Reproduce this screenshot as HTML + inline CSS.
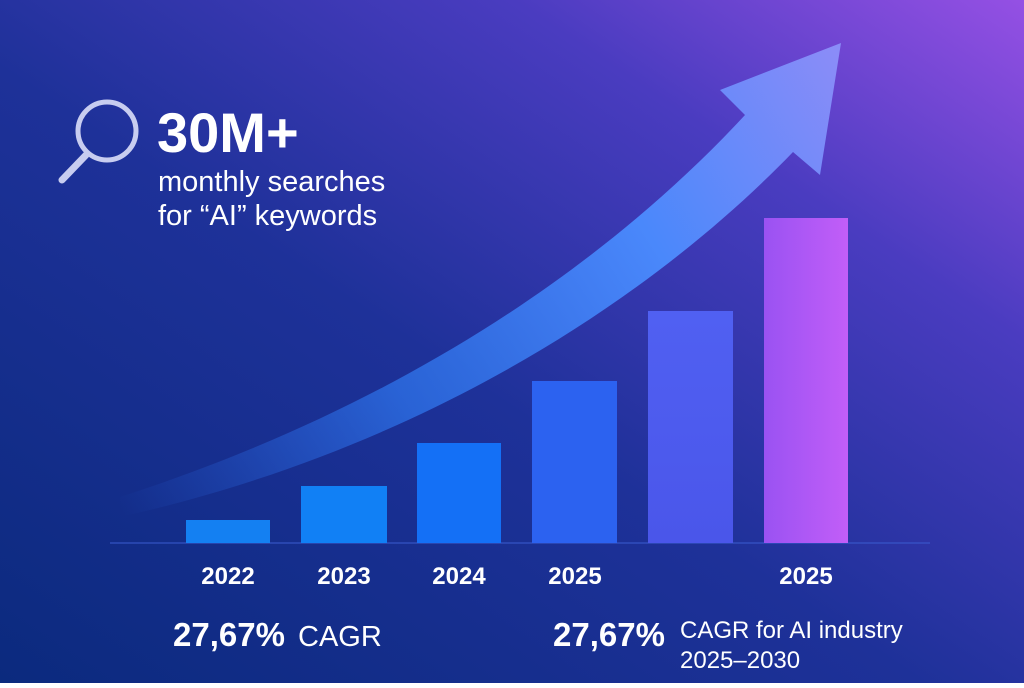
<!DOCTYPE html>
<html><head><meta charset="utf-8"><style>
html,body{margin:0;padding:0}
body{width:1024px;height:683px;overflow:hidden;font-family:"Liberation Sans",sans-serif;}
</style></head><body>
<svg width="1024" height="683" viewBox="0 0 1024 683" xmlns="http://www.w3.org/2000/svg">
<defs>
<linearGradient id="bg" x1="0" y1="1" x2="1" y2="0">
<stop offset="0" stop-color="#0b2a7e"/>
<stop offset="0.45" stop-color="#1e3199"/>
<stop offset="0.75" stop-color="#4a3cc0"/>
<stop offset="1" stop-color="#9550e4"/>
</linearGradient>
<linearGradient id="arr" x1="120" y1="510" x2="840" y2="60" gradientUnits="userSpaceOnUse">
<stop offset="0" stop-color="#2a6ae8" stop-opacity="0"/>
<stop offset="0.35" stop-color="#2f78f0" stop-opacity="0.7"/>
<stop offset="0.7" stop-color="#4a88fb" stop-opacity="1"/>
<stop offset="1" stop-color="#8a8cf8" stop-opacity="1"/>
</linearGradient>
<linearGradient id="b6" x1="0" y1="0" x2="1" y2="0">
<stop offset="0" stop-color="#9a52f2"/>
<stop offset="1" stop-color="#c25ef8"/>
</linearGradient>
<linearGradient id="b5" x1="0" y1="0" x2="0" y2="1">
<stop offset="0" stop-color="#5060f2"/>
<stop offset="1" stop-color="#4a56ea"/>
</linearGradient>
</defs>
<rect width="1024" height="683" fill="url(#bg)"/>
<path d="M120,497 C420,400 620,250 745,115 L720,90 L841,43 L820,175 L793,152 C650,300 420,450 120,517 Z" fill="url(#arr)"/>
<line x1="110" y1="543" x2="930" y2="543" stroke="#3a5cd0" stroke-width="1"/>
<rect x="186" y="520" width="84" height="23" fill="#1480f2"/>
<rect x="301" y="486" width="86" height="57" fill="#1180f5"/>
<rect x="417" y="443" width="84" height="100" fill="#1470f6"/>
<rect x="532" y="381" width="85" height="162" fill="#2c62f0"/>
<rect x="648" y="311" width="85" height="232" fill="url(#b5)"/>
<rect x="764" y="218" width="84" height="325" fill="url(#b6)"/>
<circle cx="107" cy="131" r="29" fill="none" stroke="#c8cdf0" stroke-width="5"/>
<line x1="86" y1="155" x2="62" y2="180" stroke="#c8cdf0" stroke-width="7" stroke-linecap="round"/>
<g fill="#fff">
<text x="157" y="152" font-size="56" font-weight="bold">30M+</text>
<text x="158" y="191" font-size="29">monthly searches</text>
<text x="158" y="225" font-size="29">for “AI” keywords</text>
<g font-size="24" font-weight="bold" text-anchor="middle">
<text x="228" y="584">2022</text>
<text x="344" y="584">2023</text>
<text x="459" y="584">2024</text>
<text x="575" y="584">2025</text>
<text x="806" y="584">2025</text>
</g>
<text x="173" y="646" font-size="33" font-weight="bold">27,67%</text>
<text x="298" y="646" font-size="29">CAGR</text>
<text x="553" y="646" font-size="33" font-weight="bold">27,67%</text>
<text x="680" y="638" font-size="24">CAGR for AI industry</text>
<text x="680" y="668" font-size="24">2025–2030</text>
</g>
</svg>
</body></html>
